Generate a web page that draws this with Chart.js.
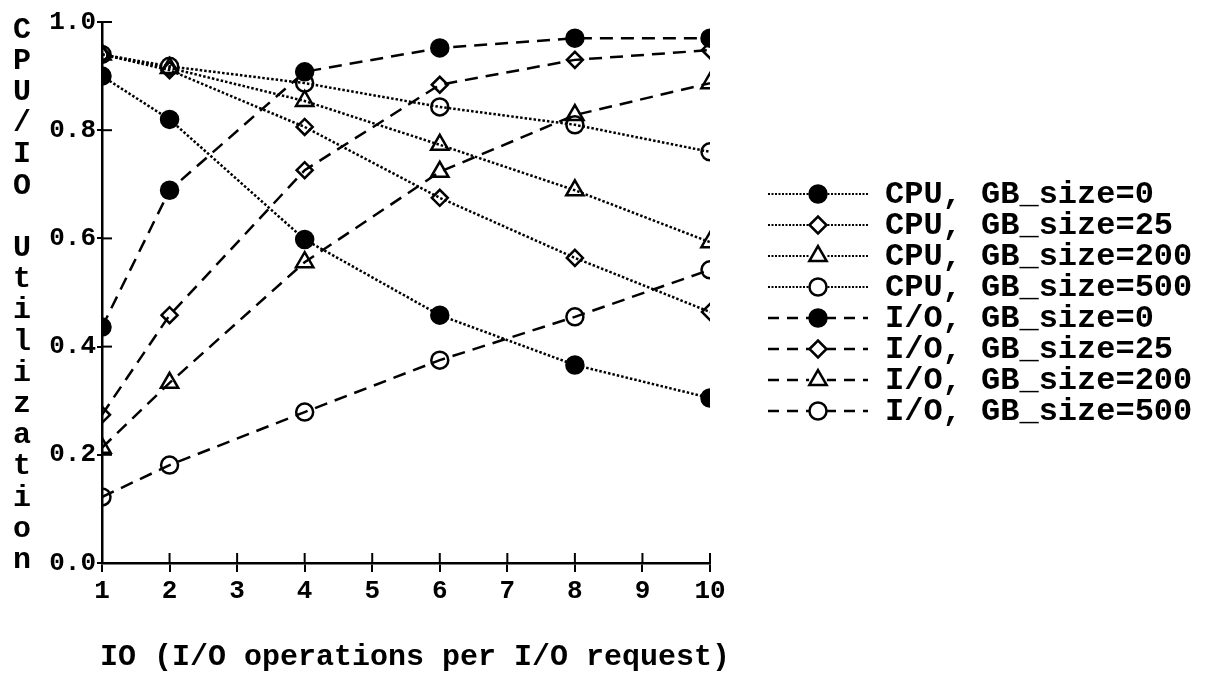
<!DOCTYPE html>
<html>
<head>
<meta charset="utf-8">
<script src="https://cdn.jsdelivr.net/npm/chart.js@4.4.1/dist/chart.umd.min.js"></script>
<style>
  html, body { margin: 0; padding: 0; background: #fff; }
  #wrap { position: relative; width: 1208px; height: 675px; }
</style>
</head>
<body>
<div id="wrap"><canvas id="c" width="1208" height="675"></canvas></div>
<script>
// ---- data ----
const ioOps = [1, 2, 4, 6, 8, 10];
const xTickValues = [1, 2, 3, 4, 5, 6, 7, 8, 9, 10];
const yTickValues = [0, 0.2, 0.4, 0.6, 0.8, 1.0];
const cpuGb0   = [0.900, 0.820, 0.598, 0.458, 0.366, 0.305];
const cpuGb25  = [0.940, 0.911, 0.806, 0.675, 0.564, 0.464];
const cpuGb200 = [0.940, 0.915, 0.854, 0.773, 0.689, 0.593];
const cpuGb500 = [0.940, 0.918, 0.887, 0.843, 0.810, 0.760];
const ioGb0    = [0.436, 0.689, 0.908, 0.952, 0.970, 0.970];
const ioGb25   = [0.274, 0.458, 0.726, 0.884, 0.930, 0.948];
const ioGb200  = [0.213, 0.333, 0.556, 0.723, 0.828, 0.887];
const ioGb500  = [0.122, 0.181, 0.279, 0.375, 0.455, 0.542];
const seriesLabels = [
  'CPU, GB_size=0', 'CPU, GB_size=25', 'CPU, GB_size=200', 'CPU, GB_size=500',
  'I/O, GB_size=0', 'I/O, GB_size=25', 'I/O, GB_size=200', 'I/O, GB_size=500'
];
const yTitle = 'CPU/IO Utilization';
const xTitle = 'IO (I/O operations per I/O request)';

// ---- styles ----
const FONT = '"Liberation Mono", "DejaVu Sans Mono", monospace';
const DOT = [2.5, 2];
const DASH = [13, 8];
const markers = [
  { pointStyle: 'circle',  radius: 8.5, fill: '#000' },
  { pointStyle: 'rectRot', radius: 8,   fill: 'rgba(0,0,0,0)' },
  { pointStyle: 'triangle',radius: 10,  fill: 'rgba(0,0,0,0)' },
  { pointStyle: 'circle',  radius: 8.5, fill: 'rgba(0,0,0,0)' }
];
const allSeries = [cpuGb0, cpuGb25, cpuGb200, cpuGb500, ioGb0, ioGb25, ioGb200, ioGb500];

const datasets = allSeries.map((vals, i) => {
  const m = markers[i % 4];
  const isIO = i >= 4;
  return {
    label: seriesLabels[i],
    data: vals.map((v, k) => ({ x: ioOps[k], y: v })),
    borderColor: '#000',
    borderWidth: 2.5,
    borderDash: isIO ? DASH : DOT,
    pointStyle: m.pointStyle,
    pointRadius: m.radius,
    pointHoverRadius: m.radius,
    pointBackgroundColor: m.fill,
    pointBorderColor: '#000',
    pointBorderWidth: 2.5,
    fill: false,
    tension: 0
  };
});

// inner halves of the tick marks (ticks cross the axes)
const innerTicks = {
  id: 'innerTicks',
  afterDraw(chart) {
    const { ctx, chartArea: a, scales } = chart;
    ctx.save();
    ctx.strokeStyle = '#000';
    ctx.lineWidth = 2;
    ctx.setLineDash([]);
    scales.x.ticks.forEach(t => {
      const px = scales.x.getPixelForValue(t.value);
      ctx.beginPath(); ctx.moveTo(px, a.bottom); ctx.lineTo(px, a.bottom - 10); ctx.stroke();
    });
    scales.y.ticks.forEach(t => {
      const py = scales.y.getPixelForValue(t.value);
      ctx.beginPath(); ctx.moveTo(a.left, py); ctx.lineTo(a.left + 10, py); ctx.stroke();
    });
    ctx.restore();
  }
};

// axis titles: stacked vertical y title, and x title (not squeezed)
const axisTitles = {
  id: 'axisTitles',
  afterDraw(chart) {
    const { ctx, chartArea: a } = chart;
    ctx.save();
    ctx.fillStyle = '#000';
    ctx.font = 'bold 30px ' + FONT;
    ctx.textAlign = 'center';
    ctx.textBaseline = 'middle';
    Array.from(yTitle).forEach((ch, i) => {
      if (ch !== ' ') ctx.fillText(ch, 22, 30 + i * 31.2);
    });
    ctx.textAlign = 'left';
    ctx.font = 'bold 30px ' + FONT;
    ctx.fillText(xTitle, a.left - 2, 657);
    ctx.restore();
  }
};

function drawMarker(ctx, opts, x, y) {
  ctx.save();
  ctx.setLineDash([]);
  ctx.lineWidth = opts.borderWidth;
  ctx.strokeStyle = '#000';
  ctx.fillStyle = opts.fill;
  Chart.helpers.drawPoint(ctx, { pointStyle: opts.pointStyle, radius: opts.radius, borderWidth: opts.borderWidth, rotation: 0 }, x, y);
  ctx.restore();
}
const sideLegend = {
  id: 'sideLegend',
  afterDraw(chart) {
    const { ctx } = chart;
    const x0 = 768, x1 = 868, xm = 818, tx = 885, y0 = 194, dy = 31;
    chart.data.datasets.forEach((ds, i) => {
      const y = y0 + i * dy;
      ctx.save();
      ctx.strokeStyle = '#000';
      ctx.lineWidth = i < 4 ? 2 : 2.5;
      ctx.setLineDash(i < 4 ? [2, 1.5] : [11, 8]);
      ctx.beginPath(); ctx.moveTo(x0, y); ctx.lineTo(x1, y); ctx.stroke();
      ctx.fillStyle = '#fff';
      ctx.beginPath(); ctx.arc(xm, y, 9, 0, Math.PI * 2); ctx.fill();
      ctx.restore();
      const m = markers[i % 4];
      drawMarker(ctx, {
        pointStyle: m.pointStyle,
        radius: m.pointStyle === 'triangle' ? 10 : 8.5,
        borderWidth: 2.5,
        fill: m.fill === '#000' ? '#000' : '#fff'
      }, xm, y);
      ctx.save();
      ctx.fillStyle = '#000';
      ctx.font = 'bold 32px ' + FONT;
      ctx.textAlign = 'left';
      ctx.textBaseline = 'middle';
      ctx.fillText(ds.label, tx, y + 1);
      ctx.restore();
    });
  }
};

new Chart(document.getElementById('c'), {
  type: 'line',
  data: { datasets },
  plugins: [innerTicks, axisTitles, sideLegend],
  options: {
    responsive: false,
    animation: false,
    devicePixelRatio: 1,
    layout: { padding: { left: 0, top: 22, right: 498, bottom: 0 } },
    plugins: { legend: { display: false }, tooltip: { enabled: false }, title: { display: false } },
    scales: {
      x: {
        type: 'linear',
        min: 1, max: 10,
        afterFit(s) { s.height = 112; },
        afterBuildTicks(s) { s.ticks = xTickValues.map(v => ({ value: v })); },
        border: { display: true, color: '#000', width: 2.5 },
        grid: { display: true, drawOnChartArea: false, drawTicks: true, tickLength: 9, color: '#000', lineWidth: 2 },
        ticks: {
          color: '#000', padding: 4,
          font: { family: FONT, size: 26, weight: 'bold' },
          maxRotation: 0, autoSkip: false,
          callback: v => String(v)
        }
      },
      y: {
        type: 'linear',
        min: 0, max: 1,
        afterFit(s) { s.width = 102; },
        afterBuildTicks(s) { s.ticks = yTickValues.map(v => ({ value: v })); },
        border: { display: true, color: '#000', width: 2.5 },
        grid: { display: true, drawOnChartArea: false, drawTicks: true, tickLength: 5, color: '#000', lineWidth: 2 },
        ticks: {
          color: '#000', padding: 1,
          font: { family: FONT, size: 26, weight: 'bold' },
          callback: v => Number(v).toFixed(1)
        }
      }
    }
  }
});
</script>
</body>
</html>
